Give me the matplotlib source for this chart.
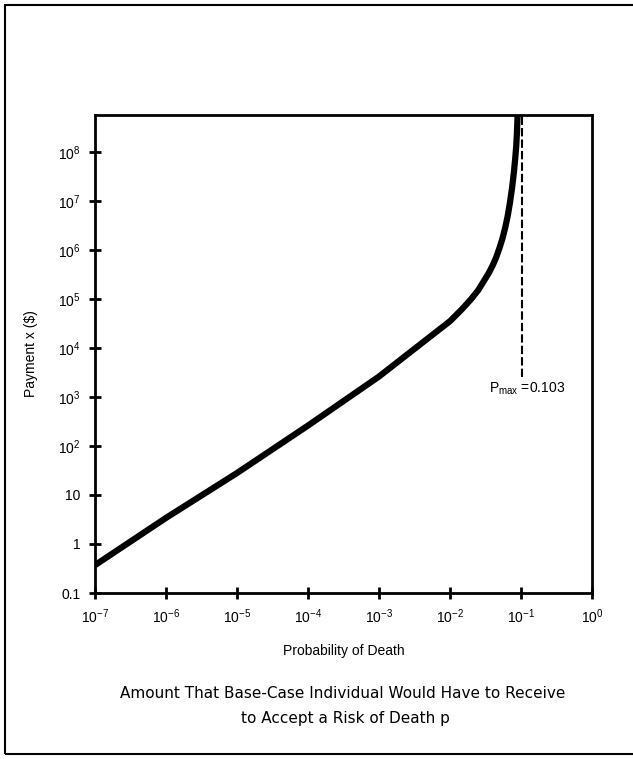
import matplotlib
matplotlib.use("Agg")
import matplotlib.pyplot as plt
from matplotlib.patches import Rectangle

plt.rcParams['font.family'] = ['Liberation Sans', 'DejaVu Sans']
plt.rcParams['mathtext.default'] = 'regular'

# values
prob = [1e-7, 1e-6, 1e-5, 1e-4, 3e-4, 1e-3, 3e-3, 1e-2, 1.5e-2, 2e-2,
        2.5e-2, 3e-2, 3.5e-2, 4e-2, 4.5e-2, 5e-2, 5.5e-2, 6e-2, 6.5e-2,
        7e-2, 7.5e-2, 8e-2, 8.3e-2, 8.6e-2, 8.8e-2, 9.0e-2]
payment = [0.37, 3.4, 28, 260, 780, 2600, 9000, 3.5e4, 6.3e4, 1.0e5,
           1.5e5, 2.3e5, 3.3e5, 4.8e5, 7.1e5, 1.1e6, 1.7e6, 2.8e6, 4.8e6,
           9e6, 1.8e7, 4e7, 7e7, 1.3e8, 2.4e8, 6e8]

p_max = 0.103
dash_bottom = 2500

xticks = [1e-7, 1e-6, 1e-5, 1e-4, 1e-3, 1e-2, 1e-1, 1e0]
xticklabels = ['$10^{-7}$', '$10^{-6}$', '$10^{-5}$', '$10^{-4}$',
               '$10^{-3}$', '$10^{-2}$', '$10^{-1}$', '$10^{0}$']
yticks = [0.1, 1, 10, 1e2, 1e3, 1e4, 1e5, 1e6, 1e7, 1e8]
yticklabels = ['0.1', '1', '10', '$10^2$', '$10^3$', '$10^4$',
               '$10^5$', '$10^6$', '$10^7$', '$10^8$']

fig = plt.figure(figsize=(6.33, 7.59), dpi=100)
ax = fig.add_axes([0.150, 0.2187, 0.785, 0.630])

ax.plot(prob, payment, color='black', lw=4.5, solid_capstyle='butt',
        solid_joinstyle='round')
ax.plot([p_max, p_max], [dash_bottom, 6e8], color='black', lw=1.5,
        linestyle=(0, (4, 1.5)))
ax.text(0.035, 1500, 'P$_{max}$ =0.103', fontsize=10, ha='left', va='center')

ax.set_xscale('log')
ax.set_yscale('log')
ax.set_xlim(1e-7, 1e0)
ax.set_ylim(0.1, 5.7e8)
ax.minorticks_off()
ax.set_xticks(xticks)
ax.set_xticklabels(xticklabels, fontsize=10)
ax.set_yticks(yticks)
ax.set_yticklabels(yticklabels, fontsize=10)
ax.tick_params(direction='inout', length=9, width=2, pad=6)

for s in ax.spines.values():
    s.set_linewidth(2)

ax.set_xlabel('Probability of Death', fontsize=10, labelpad=13)
ax.set_ylabel(r'Payment x (\$)', fontsize=10, labelpad=14)

# outer frame and caption
fig.add_artist(Rectangle((5 / 633, 5 / 759), 1.2, 1 - 10 / 759,
                         transform=fig.transFigure, fill=False,
                         lw=1.5, color='black'))
fig.text(0.541, 1 - 693 / 759,
         'Amount That Base-Case Individual Would Have to Receive',
         fontsize=11, family='DejaVu Sans', ha='center', va='center')
fig.text(0.545, 1 - 718 / 759, 'to Accept a Risk of Death p',
         fontsize=11, family='DejaVu Sans', ha='center', va='center')

fig.savefig('out.png', dpi=100)
plt.close(fig)
